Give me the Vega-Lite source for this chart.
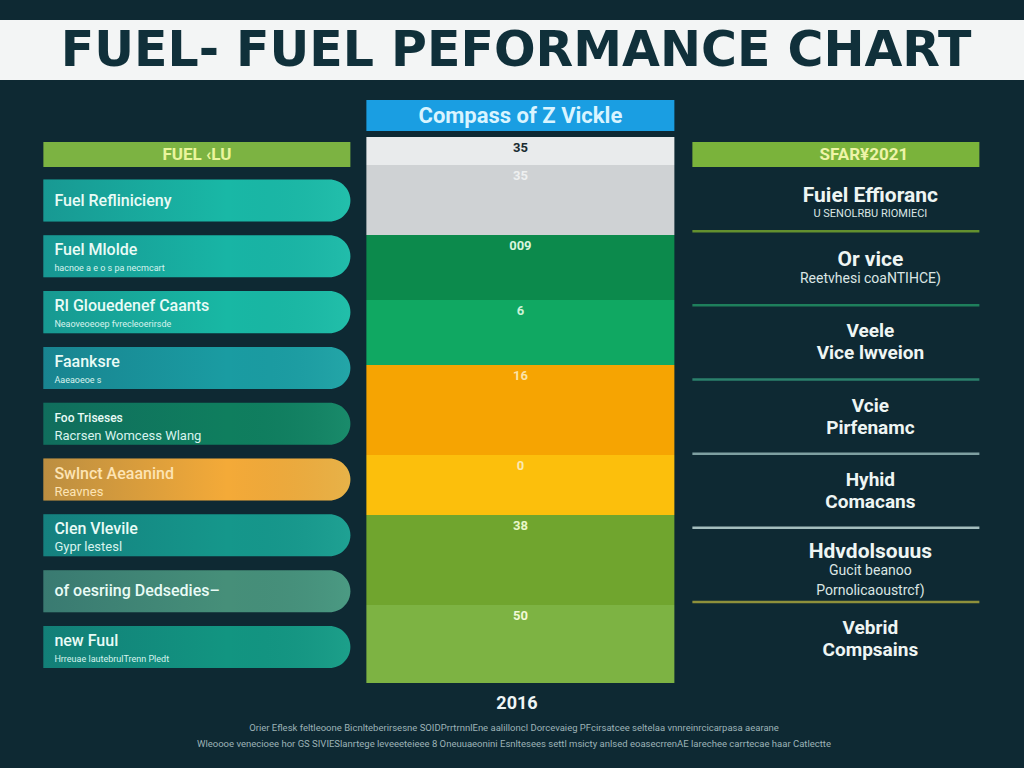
{
  "$schema": "https://vega.github.io/schema/vega-lite/v6.json",
  "background": "#0e2933",
  "padding": {"top": 20, "left": 0, "right": 0, "bottom": 14},
  "spacing": 20,
  "center": true,
  "config": {"view": {"stroke": null}, "font": "Roboto"},
  "datasets": {
    "left": [
      {"item": "Fuel Reflinicieny", "sub": null},
      {"item": "Fuel Mlolde", "sub": "hacnoe a e o s pa necmcart"},
      {"item": "RI Glouedenef Caants", "sub": "Neaoveoeoep fvrecleoerirsde"},
      {"item": "Faanksre", "sub": "Aaeaoeoe   s"},
      {"item": "Foo Triseses", "sub": "Racrsen Womcess  Wlang"},
      {"item": "Swlnct Aeaanind", "sub": "Reavnes"},
      {"item": "Clen Vlevile", "sub": "Gypr lestesl"},
      {"item": "of oesriing Dedsedies–", "sub": null},
      {"item": "new Fuul", "sub": "Hrreuae lautebrulTrenn Pledt"}
    ],
    "stack": [
      {"seg": "A", "order": 1, "value": 28, "label": "35"},
      {"seg": "B", "order": 2, "value": 70, "label": "35"},
      {"seg": "C", "order": 3, "value": 65, "label": "009"},
      {"seg": "D", "order": 4, "value": 65, "label": "6"},
      {"seg": "E", "order": 5, "value": 90, "label": "16"},
      {"seg": "F", "order": 6, "value": 60, "label": "0"},
      {"seg": "G", "order": 7, "value": 90, "label": "38"},
      {"seg": "H", "order": 8, "value": 78, "label": "50"}
    ],
    "right": [
      {"id": "r1", "head": ["Fuiel Effioranc"], "sub": ["U SENOLRBU RIOMIECI"]},
      {"id": "r2", "head": ["Or vice"], "sub": ["Reetvhesi coaNTIHCE)"]},
      {"id": "r3", "head": ["Veele", "Vice lwveion"], "sub": null},
      {"id": "r4", "head": ["Vcie", "Pirfenamc"], "sub": null},
      {"id": "r5", "head": ["Hyhid", "Comacans"], "sub": null},
      {"id": "r6", "head": ["Hdvdolsouus"], "sub": ["Gucit beanoo", "Pornolicaoustrcf)"]},
      {"id": "r7", "head": ["Vebrid", "Compsains"], "sub": null}
    ]
  },
  "vconcat": [
    {
      "width": 1024,
      "height": 60,
      "view": {"fill": "#f3f5f5", "stroke": null},
      "data": {"values": [{"t": "FUEL- FUEL PEFORMANCE CHART"}]},
      "mark": {"type": "text", "font": "DejaVu Sans", "fontWeight": "bold", "fontSize": 49, "color": "#10303a", "baseline": "middle", "align": "center", "dx": 4, "dy": 1},
      "encoding": {"text": {"field": "t", "type": "nominal"}}
    },
    {
      "vconcat": [
        {
          "hconcat": [
            {
              "width": 307,
              "height": 583,
              "layer": [
                {
                  "data": {"values": [{"h": "FUEL ‹LU"}]},
                  "encoding": {"y": {"field": "h", "type": "nominal", "axis": null, "scale": {"range": [42, 67], "paddingInner": 0, "paddingOuter": 0}}},
                  "layer": [
                    {"mark": {"type": "bar", "color": "#7cb342"}},
                    {"mark": {"type": "text", "fontSize": 17, "fontWeight": "bold", "color": "#eaf59c", "baseline": "middle", "align": "center"}, "encoding": {"text": {"field": "h", "type": "nominal"}}}
                  ]
                },
                {
                  "data": {"name": "left"},
                  "encoding": {"y": {"field": "item", "type": "nominal", "axis": null, "sort": null, "scale": {"domain": ["Fuel Reflinicieny", "Fuel Mlolde", "RI Glouedenef Caants", "Faanksre", "Foo Triseses", "Swlnct Aeaanind", "Clen Vlevile", "of oesriing Dedsedies–", "new Fuul"], "paddingInner": 0.247, "paddingOuter": 0.847, "align": 0.841}}},
                  "layer": [
                    {
                      "mark": {"type": "bar", "cornerRadiusTopRight": 21, "cornerRadiusBottomRight": 21},
                      "encoding": {"color": {"field": "item", "type": "nominal", "legend": null, "scale": {"domain": ["Fuel Reflinicieny", "Fuel Mlolde", "RI Glouedenef Caants", "Faanksre", "Foo Triseses", "Swlnct Aeaanind", "Clen Vlevile", "of oesriing Dedsedies–", "new Fuul"], "range": ["#19b8a6", "#18b5a5", "#18b8a4", "#1a9ca2", "#0f7e5e", "#f4aa38", "#15978b", "#468f79", "#129581"]}}}
                    },
                    {
                      "mark": {"type": "bar", "cornerRadiusTopRight": 21, "cornerRadiusBottomRight": 21, "fill": {"gradient": "linear", "x1": 0, "y1": 0, "x2": 1, "y2": 0, "stops": [{"offset": 0, "color": "rgba(20,60,90,0.25)"}, {"offset": 0.6, "color": "rgba(20,60,90,0.0)"}, {"offset": 1, "color": "rgba(120,255,220,0.10)"}]}}
                    },
                    {
                      "transform": [{"filter": "!datum.sub"}],
                      "mark": {"type": "text", "align": "left", "baseline": "middle", "fontSize": 16, "fontWeight": 500},
                      "encoding": {"x": {"value": 11}, "text": {"field": "item", "type": "nominal"}, "color": {"value": "#e9fbf6"}}
                    },
                    {
                      "transform": [{"filter": "datum.sub"}],
                      "mark": {"type": "text", "align": "left", "baseline": "middle", "fontWeight": 500, "dy": -6},
                      "encoding": {
                        "x": {"value": 11},
                        "text": {"field": "item", "type": "nominal"},
                        "size": {"condition": {"test": "datum.item === 'Foo Triseses'", "value": 12}, "value": 16},
                        "color": {"condition": {"test": "datum.item === 'Swlnct Aeaanind'", "value": "#fde4b4"}, "value": "#e9fbf6"}
                      }
                    },
                    {
                      "transform": [{"filter": "datum.sub"}],
                      "mark": {"type": "text", "align": "left", "baseline": "middle", "dy": 12},
                      "encoding": {
                        "x": {"value": 11},
                        "text": {"field": "sub", "type": "nominal"},
                        "size": {"condition": {"test": "indexof(['Foo Triseses','Swlnct Aeaanind','Clen Vlevile'], datum.item) >= 0", "value": 13}, "value": 9},
                        "color": {"condition": {"test": "datum.item === 'Swlnct Aeaanind'", "value": "#fde4b4"}, "value": "#d8f3ee"}
                      }
                    }
                  ]
                }
              ],
              "resolve": {"scale": {"y": "independent"}}
            },
            {
              "vconcat": [
                {
                  "width": 308,
                  "height": 31,
                  "view": {"fill": "#1a9ee2", "stroke": null},
                  "data": {"values": [{"t": "Compass of Z Vickle"}]},
                  "mark": {"type": "text", "fontSize": 22, "fontWeight": "bold", "color": "#d9f4ff", "baseline": "middle", "align": "center"},
                  "encoding": {"text": {"field": "t", "type": "nominal"}}
                },
                {
                  "width": 308,
                  "height": 546,
                  "data": {"name": "stack"},
                  "transform": [{"stack": "value", "groupby": [], "sort": [{"field": "order", "order": "ascending"}], "as": ["v0", "v1"]}],
                  "encoding": {
                    "x": {"datum": "2016", "type": "nominal", "axis": null, "scale": {"paddingInner": 0, "paddingOuter": 0}},
                    "y": {"field": "v0", "type": "quantitative", "axis": null, "scale": {"reverse": true, "nice": false, "zero": true}}
                  },
                  "layer": [
                    {
                      "mark": {"type": "bar"},
                      "encoding": {
                        "y2": {"field": "v1"},
                        "color": {"field": "seg", "type": "nominal", "legend": null, "scale": {"domain": ["A", "B", "C", "D", "E", "F", "G", "H"], "range": ["#e9ebec", "#cfd2d4", "#0c8a4c", "#10a862", "#f6a402", "#fcbf0c", "#70a52e", "#7db343"]}}
                      }
                    },
                    {
                      "mark": {"type": "text", "baseline": "middle", "align": "center", "dy": 11, "fontSize": 13, "fontWeight": "bold"},
                      "encoding": {
                        "text": {"field": "label", "type": "nominal"},
                        "color": {"field": "seg", "type": "nominal", "legend": null, "scale": {"domain": ["A", "B", "C", "D", "E", "F", "G", "H"], "range": ["#1b2b31", "#eef0f0", "#d9f5dd", "#caf2d6", "#fbe3a8", "#fbe9b2", "#e9f7c8", "#f1f9d6"]}}
                      }
                    }
                  ],
                  "resolve": {"scale": {"color": "independent"}}
                }
              ],
              "spacing": 6,
              "resolve": {"scale": {"color": "independent"}}
            },
            {
              "width": 287,
              "height": 583,
              "layer": [
                {
                  "data": {"values": [{"h": "SFAR¥2021"}]},
                  "encoding": {"y": {"field": "h", "type": "nominal", "axis": null, "scale": {"range": [42, 67], "paddingInner": 0, "paddingOuter": 0}}},
                  "layer": [
                    {"mark": {"type": "bar", "color": "#7ab33b"}},
                    {"mark": {"type": "text", "fontSize": 17, "fontWeight": "bold", "color": "#eef4a8", "baseline": "middle", "align": "center", "dx": 28}, "encoding": {"text": {"field": "h", "type": "nominal"}}}
                  ]
                },
                {
                  "data": {"name": "right"},
                  "encoding": {"y": {"field": "id", "type": "nominal", "axis": null, "sort": null, "scale": {"domain": ["r1", "r2", "r3", "r4", "r5", "r6", "r7"], "paddingInner": 0, "paddingOuter": 0.431, "align": 0.892}}},
                  "layer": [
                    {
                      "transform": [{"filter": "datum.id !== 'r7'"}],
                      "mark": {"type": "rule", "strokeWidth": 2.5},
                      "encoding": {
                        "y": {"field": "id", "type": "nominal", "bandPosition": 1, "axis": null, "sort": null, "scale": {"domain": ["r1", "r2", "r3", "r4", "r5", "r6", "r7"], "paddingInner": 0, "paddingOuter": 0.431, "align": 0.892}},
                        "color": {"field": "id", "type": "nominal", "legend": null, "scale": {"domain": ["r1", "r2", "r3", "r4", "r5", "r6"], "range": ["#63902f", "#1e7f5c", "#2b806c", "#7e9fa1", "#a4bdbe", "#8e903b"]}}
                      }
                    },
                    {
                      "transform": [{"filter": "!datum.sub"}],
                      "mark": {"type": "text", "align": "center", "baseline": "middle", "fontSize": 19, "fontWeight": "bold", "lineHeight": 22, "dy": -11, "color": "#eef5f3"},
                      "encoding": {"x": {"value": 178}, "text": {"field": "head", "type": "nominal"}}
                    },
                    {
                      "transform": [{"filter": "datum.id === 'r1'"}],
                      "mark": {"type": "text", "align": "center", "baseline": "bottom", "fontSize": 21, "fontWeight": "bold", "lineHeight": 21, "dy": 12, "color": "#eef5f3"},
                      "encoding": {"x": {"value": 178}, "text": {"field": "head", "type": "nominal"}}
                    },
                    {
                      "transform": [{"filter": "datum.id === 'r2'"}],
                      "mark": {"type": "text", "align": "center", "baseline": "bottom", "fontSize": 21, "fontWeight": "bold", "lineHeight": 21, "dy": 2, "color": "#eef5f3"},
                      "encoding": {"x": {"value": 178}, "text": {"field": "head", "type": "nominal"}}
                    },
                    {
                      "transform": [{"filter": "datum.id === 'r6'"}],
                      "mark": {"type": "text", "align": "center", "baseline": "bottom", "fontSize": 21, "fontWeight": "bold", "lineHeight": 21, "dy": -3, "color": "#eef5f3"},
                      "encoding": {"x": {"value": 178}, "text": {"field": "head", "type": "nominal"}}
                    },
                    {
                      "transform": [{"filter": "datum.id === 'r1'"}],
                      "mark": {"type": "text", "align": "center", "baseline": "top", "fontSize": 11, "dy": 14, "color": "#dbe6e4"},
                      "encoding": {"x": {"value": 178}, "text": {"field": "sub", "type": "nominal"}}
                    },
                    {
                      "transform": [{"filter": "datum.id === 'r2'"}],
                      "mark": {"type": "text", "align": "center", "baseline": "top", "fontSize": 14, "dy": 4, "color": "#dbe6e4"},
                      "encoding": {"x": {"value": 178}, "text": {"field": "sub", "type": "nominal"}}
                    },
                    {
                      "transform": [{"filter": "datum.id === 'r6'"}],
                      "mark": {"type": "text", "align": "center", "baseline": "top", "fontSize": 14, "lineHeight": 20, "dy": -1, "color": "#dbe6e4"},
                      "encoding": {"x": {"value": 178}, "text": {"field": "sub", "type": "nominal"}}
                    }
                  ]
                }
              ],
              "resolve": {"scale": {"y": "independent"}}
            }
          ],
          "spacing": 16,
          "resolve": {"scale": {"color": "independent", "x": "independent", "y": "independent"}}
        },
        {
          "width": 1024,
          "height": 60,
          "data": {"values": [
            {"k": "year", "t": "2016"},
            {"k": "notes", "t": ["Orier Eflesk feltleoone Bicnlteberirsesne SOIDPrrtrnnlEne aalilloncl Dorcevaieg PFcirsatcee seltelaa vnnreinrcicarpasa aearane", "Wleoooe venecioee hor GS SIVIESlanrtege leveeeteieee 8 Oneuuaeonini Esnltesees settl msicty anlsed eoasecrrenAE larechee carrtecae haar Catlectte"]}
          ]},
          "encoding": {"y": {"field": "k", "type": "nominal", "axis": null, "sort": null, "scale": {"type": "point", "domain": ["year", "notes"], "padding": 0.4375, "align": 0.321}}},
          "layer": [
            {
              "transform": [{"filter": "datum.k === 'year'"}],
              "mark": {"type": "text", "fontSize": 18, "fontWeight": "bold", "color": "#eef5f5", "baseline": "middle", "align": "center", "dx": 5},
              "encoding": {"text": {"field": "t", "type": "nominal"}}
            },
            {
              "transform": [{"filter": "datum.k === 'notes'"}],
              "mark": {"type": "text", "fontSize": 9.5, "color": "#9db3b7", "baseline": "middle", "align": "center", "lineHeight": 16, "dx": 2, "dy": -8},
              "encoding": {"text": {"field": "t", "type": "nominal"}}
            }
          ]
        }
      ],
      "spacing": 11,
      "center": true
    }
  ]
}
